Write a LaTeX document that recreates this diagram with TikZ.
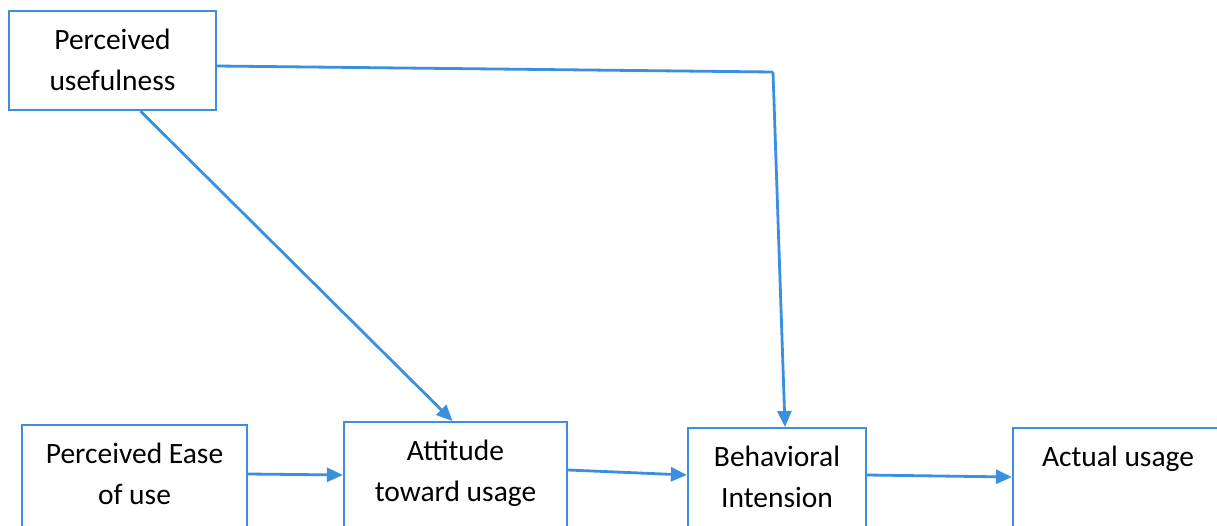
\documentclass[tikz,border=0pt]{standalone}
\usepackage{fontspec}
\setmainfont{Carlito}
\usetikzlibrary{arrows.meta}
\definecolor{tamblue}{RGB}{58,143,222}

\begin{document}
\begin{tikzpicture}[x=1pt,y=-1pt,
  every node/.style={font=\fontsize{29.5}{41}\selectfont},
  box/.style={draw=tamblue, line width=2.2pt, anchor=north, align=center,
    inner xsep=0pt, inner ysep=14pt, text height=65pt, text depth=60pt},
  link/.style={draw=tamblue, line width=2.8pt, -{Triangle[length=16pt,width=14pt]}}]
\clip (0,0) rectangle (1217,525);
% boxes
\node [box, minimum width=207pt, text depth=6pt] (pu) at (112.5,10) {Perceived\\usefulness};
\node [box, minimum width=225pt] (peu) at (134.5,424) {Perceived Ease\\of use};
\node [box, minimum width=223pt] (atu) at (455.5,421) {Attitude\\toward usage};
\node [box, minimum width=178pt] (bi) at (777,427) {Behavioral\\Intension};
\node [box, minimum width=210pt, text height=24pt, text depth=100pt] (au) at (1118,427) {Actual usage};
\coordinate (bend) at (773,72);
% arrows
\draw [link, -] ([yshift=-56pt]pu.north east) -- (bend);
\draw [link] (bend) -- ([xshift=8pt]bi.north);
\draw [link] ([xshift=28pt]pu.south) -- ([xshift=-3pt]atu.north);
\draw [link] ([yshift=-50pt]peu.north east) -- ([yshift=-54pt]atu.north west);
\draw [link] ([yshift=-49pt]atu.north east) -- ([yshift=-48pt]bi.north west);
\draw [link] ([yshift=-48pt]bi.north east) -- ([yshift=-50pt]au.north west);
\end{tikzpicture}
\end{document}
